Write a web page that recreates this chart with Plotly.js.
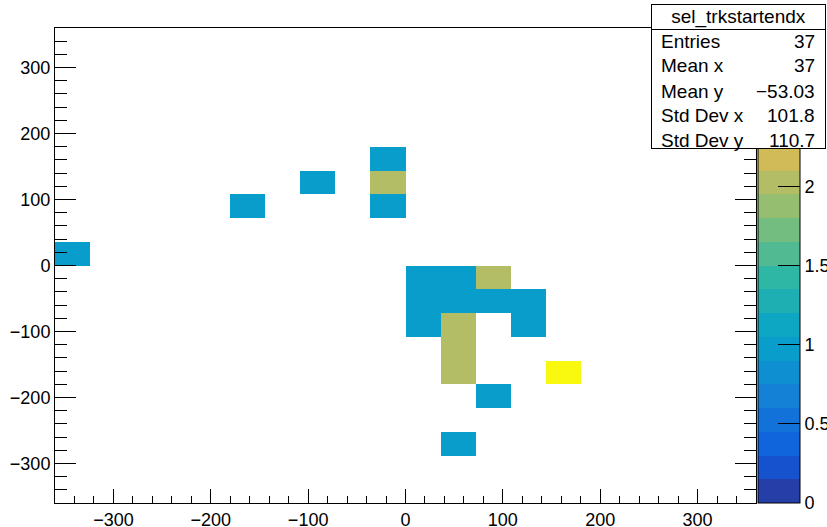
<!DOCTYPE html>
<html>
<head>
<meta charset="utf-8">
<script src="https://cdn.plot.ly/plotly-3.0.1.min.js"></script>
<style>
  html, body { margin: 0; padding: 0; background: #ffffff; }
  #plot { width: 827px; height: 527px; }
</style>
</head>
<body>
<div id="plot"></div>
<script>
// Filled cells of the 2D histogram: bin centres (bins are 36 wide) and contents
const cellX = [-342, -162, -90, -18, -18, -18, 18, 54, 90, 18, 54, 90, 126, 18, 54, 126, 54, 54, 162, 90, 54];
const cellY = [18, 90, 126, 162, 126, 90, -18, -18, -18, -54, -54, -54, -54, -90, -90, -90, -126, -162, -162, -198, -270];
const cellZ = [1, 1, 1, 1, 2, 1, 1, 1, 2, 1, 1, 1, 1, 1, 2, 1, 2, 2, 3, 1, 1];

// Binning: 20 x 20 bins over [-360, 360]
const nBins = 20;
const binLow = -360;
const binWidth = 36;

// Statistics box contents
const statTitle = "sel_trkstartendx";
const statLabels = ["Entries", "Mean x", "Mean y", "Std Dev x", "Std Dev y"];
const statValues = ["37", "37", "\u221253.03", "101.8", "110.7"];

// Colour axis range and number of contour levels
const zMin = 0, zMax = 3, nLevels = 20;

// Tick values on the axes (upper palette labels sit under the stats box)
const axisTicks = [-300, -200, -100, 0, 100, 200, 300];
const zTicks = [0, 0.5, 1, 1.5, 2];

// Bird palette gradient (255 colours, linear between stops)
function birdPalette() {
  const stops = [0.0000, 0.1250, 0.2500, 0.3750, 0.5000, 0.6250, 0.7500, 0.8750, 1.0000];
  const red   = [0.2082, 0.0592, 0.0780, 0.0232, 0.1802, 0.5301, 0.8186, 0.9956, 0.9764];
  const green = [0.1664, 0.3599, 0.5041, 0.6419, 0.7178, 0.7492, 0.7328, 0.7862, 0.9832];
  const blue  = [0.5293, 0.8684, 0.8385, 0.7914, 0.6425, 0.4662, 0.3499, 0.1968, 0.0539];
  const n = 255, cols = [];
  for (let g = 1; g < stops.length; g++) {
    const m = Math.floor(n * stops[g]) - Math.floor(n * stops[g - 1]);
    for (let c = 0; c < m; c++) {
      const r = red[g - 1] + c * (red[g] - red[g - 1]) / m;
      const gg = green[g - 1] + c * (green[g] - green[g - 1]) / m;
      const b = blue[g - 1] + c * (blue[g] - blue[g - 1]) / m;
      cols.push('rgb(' + Math.round(r * 255) + ',' + Math.round(gg * 255) + ',' + Math.round(b * 255) + ')');
    }
  }
  return cols;
}

// Discrete colour scale: one flat band per contour level
const palette = birdPalette();
const colorscale = [];
for (let i = 0; i < nLevels; i++) {
  let idx = Math.floor((i + 0.99) * palette.length / nLevels);
  idx = Math.min(idx, palette.length - 1);
  colorscale.push([i / nLevels, palette[idx]]);
  colorscale.push([(i + 1) / nLevels, palette[idx]]);
}

// Build the z matrix (empty bins stay null)
const centres = [];
for (let i = 0; i < nBins; i++) centres.push(binLow + binWidth * (i + 0.5));
const z = [];
for (let j = 0; j < nBins; j++) z.push(new Array(nBins).fill(null));
for (let k = 0; k < cellZ.length; k++) {
  const ix = Math.round((cellX[k] - binLow) / binWidth - 0.5);
  const iy = Math.round((cellY[k] - binLow) / binWidth - 0.5);
  z[iy][ix] = cellZ[k];
}

const family = 'Liberation Sans, Arial, Helvetica, sans-serif';
const font = { family: family, size: 18, color: '#000000' };
const statFont = { family: family, size: 19, color: '#000000' };

const trace = {
  type: 'heatmap',
  x: centres,
  y: centres,
  z: z,
  zmin: zMin,
  zmax: zMax,
  colorscale: colorscale,
  hoverongaps: false,
  colorbar: {
    x: 1.00285, xanchor: 'left', xpad: 0,
    y: 0.5, yanchor: 'middle', ypad: 0,
    len: 1, lenmode: 'fraction',
    thickness: 42, thicknessmode: 'pixels',
    outlinewidth: 1, outlinecolor: '#000000',
    ticks: 'inside', ticklen: 22, tickcolor: '#000000', tickwidth: 1,
    tickvals: zTicks, ticktext: zTicks.map(String),
    tickfont: font
  }
};

// Plot area geometry in pixels (for placing the statistics box)
const L = 55, R = 71, T = 28, B = 24, W = 827, H = 527;
const pw = W - L - R, ph = H - T - B;
const px = (x) => (x - L) / pw;
const py = (y) => (H - B - y) / ph;

const annotations = [];
// Outer frame of the statistics box
annotations.push({
  xref: 'paper', yref: 'paper', x: px(651), y: py(4), xanchor: 'left', yanchor: 'top',
  text: ' ', showarrow: false, width: 173, height: 143,
  bgcolor: '#ffffff', bordercolor: '#000000', borderwidth: 1, borderpad: 0
});
// Title cell
annotations.push({
  xref: 'paper', yref: 'paper', x: px(651), y: py(4), xanchor: 'left', yanchor: 'top',
  text: statTitle, showarrow: false, width: 173, height: 24, align: 'center', valign: 'middle',
  bgcolor: '#ffffff', bordercolor: '#000000', borderwidth: 1, borderpad: 0,
  font: statFont
});
const rowY = [41, 66, 91, 116, 140.5];
for (let i = 0; i < statLabels.length; i++) {
  annotations.push({
    xref: 'paper', yref: 'paper', x: px(659), y: py(rowY[i]), xanchor: 'left', yanchor: 'middle',
    text: statLabels[i], showarrow: false, font: statFont
  });
  annotations.push({
    xref: 'paper', yref: 'paper', x: px(817), y: py(rowY[i]), xanchor: 'right', yanchor: 'middle',
    text: statValues[i], showarrow: false, font: statFont
  });
}

const layout = {
  width: W, height: H,
  margin: { l: L, r: R, t: T, b: B, autoexpand: false },
  paper_bgcolor: '#ffffff',
  plot_bgcolor: '#ffffff',
  font: font,
  showlegend: false,
  xaxis: {
    range: [binLow, binLow + nBins * binWidth],
    tickvals: axisTicks,
    ticks: 'inside', ticklen: 14, tickwidth: 1, tickcolor: '#000000',
    minor: { dtick: 20, tick0: 0, ticks: 'inside', ticklen: 7, tickwidth: 1, tickcolor: '#000000', showgrid: false },
    showgrid: false, zeroline: false,
    showline: true, linecolor: '#000000', linewidth: 1, mirror: true,
    tickfont: font
  },
  yaxis: {
    range: [binLow, binLow + nBins * binWidth],
    tickvals: axisTicks,
    ticks: 'inside', ticklen: 21, tickwidth: 1, tickcolor: '#000000',
    minor: { dtick: 20, tick0: 0, ticks: 'inside', ticklen: 12, tickwidth: 1, tickcolor: '#000000', showgrid: false },
    showgrid: false, zeroline: false,
    showline: true, linecolor: '#000000', linewidth: 1, mirror: 'ticks',
    tickfont: font
  },
  annotations: annotations
};

Plotly.newPlot('plot', [trace], layout, { staticPlot: true, displayModeBar: false });
</script>
</body>
</html>
